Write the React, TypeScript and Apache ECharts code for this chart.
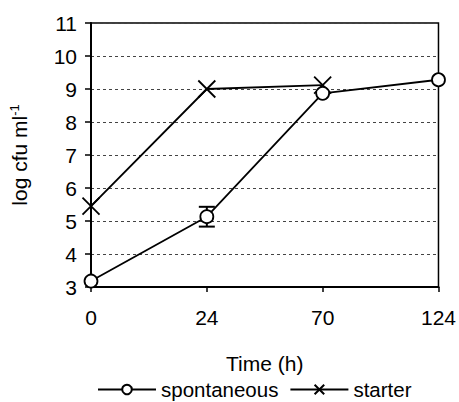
import React, { useEffect, useRef } from "react";
import * as echarts from "echarts";

const categories = ["0", "24", "70", "124"];
const spontaneous = [3.18, 5.13, 8.87, 9.28];
const spontaneousErr = [0, 0.3, 0, 0];
const starter: (number | null)[] = [5.45, 9.0, 9.12, null];

const FONT = "'Liberation Sans', Arial, sans-serif";

export default function App() {
  const ref = useRef<HTMLDivElement>(null);
  useEffect(() => {
    document.body.style.margin = "0";
    if (!ref.current) return;
    const chart = echarts.init(ref.current, undefined, { renderer: "svg" });
    const errData = spontaneous.map((v, i) => [i, v - spontaneousErr[i], v + spontaneousErr[i]]);
    chart.setOption({
      animation: false,
      backgroundColor: "#ffffff",
      textStyle: { fontFamily: FONT, color: "#000" },
      grid: {
        left: 87,
        right: 19,
        top: 23,
        bottom: 115,
        show: true,
        borderColor: "#000",
        borderWidth: 1.5,
        backgroundColor: "transparent",
      },
      legend: {
        left: 97,
        top: 379,
        itemWidth: 58,
        itemHeight: 12,
        itemGap: 11,
        padding: 0,
        textStyle: { fontSize: 20.5, color: "#000", fontFamily: FONT },
        data: ["spontaneous", "starter"],
      },
      xAxis: {
        type: "category",
        data: categories,
        boundaryGap: false,
        name: "Time (h)",
        nameLocation: "middle",
        nameGap: 66,
        nameTextStyle: { fontSize: 21, color: "#000", fontFamily: FONT },
        axisLine: { lineStyle: { color: "#000", width: 2 } },
        axisTick: { show: true, length: 5, inside: false, lineStyle: { color: "#000", width: 1.5 } },
        axisLabel: { fontSize: 21, color: "#000", margin: 20, fontFamily: FONT },
        splitLine: { show: false },
      },
      yAxis: {
        type: "value",
        min: 3,
        max: 11,
        interval: 1,
        name: "log cfu ml{sup|-1}",
        nameLocation: "middle",
        nameGap: 60,
        nameRotate: 90,
        nameTextStyle: {
          fontSize: 21,
          color: "#000",
          fontFamily: FONT,
          rich: {
            sup: { fontSize: 13, verticalAlign: "top", color: "#000", fontFamily: FONT, padding: [0, 0, 10, 0] },
          },
        },
        axisLine: { show: true, lineStyle: { color: "#000", width: 2 } },
        axisTick: { show: true, length: 6, lineStyle: { color: "#000", width: 1.5 } },
        axisLabel: { fontSize: 21, color: "#000", margin: 14, fontFamily: FONT },
        splitLine: { show: true, lineStyle: { color: "#444", width: 1, type: [3, 3] } },
      },
      series: [
        {
          type: "custom",
          name: "err",
          z: 1,
          silent: true,
          renderItem: (params: any, api: any) => {
            const x = api.value(0);
            const lo = api.coord([x, api.value(1)]);
            const hi = api.coord([x, api.value(2)]);
            if (Math.abs(hi[1] - lo[1]) < 1) return { type: "group", children: [] };
            const w = 8;
            const st = { stroke: "#000", lineWidth: 2 };
            return {
              type: "group",
              children: [
                { type: "line", shape: { x1: lo[0], y1: lo[1], x2: hi[0], y2: hi[1] }, style: st },
                { type: "line", shape: { x1: lo[0] - w, y1: lo[1], x2: lo[0] + w, y2: lo[1] }, style: st },
                { type: "line", shape: { x1: hi[0] - w, y1: hi[1], x2: hi[0] + w, y2: hi[1] }, style: st },
              ],
            };
          },
          data: errData,
        },
        {
          type: "line",
          name: "starter",
          z: 2,
          data: starter,
          symbol: "path://M0,0L10,10M0,10L10,0",
          symbolSize: 17,
          lineStyle: { color: "#000", width: 1.8 },
          itemStyle: { color: "#000", borderColor: "#000", borderWidth: 1.8 },
        },
        {
          type: "line",
          name: "spontaneous",
          z: 3,
          data: spontaneous,
          symbol: "circle",
          symbolSize: 13,
          lineStyle: { color: "#000", width: 1.8 },
          itemStyle: { color: "#fff", borderColor: "#000", borderWidth: 1.8 },
        },
      ],
    });
    return () => chart.dispose();
  }, []);
  return <div ref={ref} style={{ width: 459, height: 402 }} />;
}
